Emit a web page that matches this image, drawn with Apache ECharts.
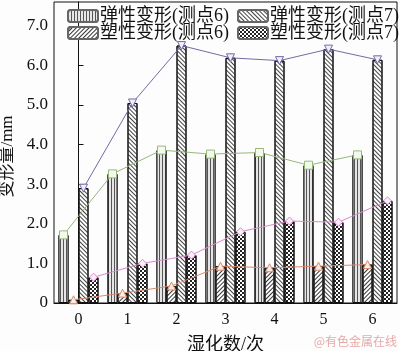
<!DOCTYPE html>
<html>
<head>
<meta charset="utf-8">
<script src="https://cdn.jsdelivr.net/npm/echarts@6/dist/echarts.min.js"></script>
<style>
  html, body { margin: 0; padding: 0; background: #fdfdfd; }
  #chart { width: 400px; height: 351px; }
</style>
</head>
<body>
<div id="chart"></div>
<script>
// 数据
const categories = ['0', '1', '2', '3', '4', '5', '6'];
const elastic6 = [1.72, 3.26, 3.86, 3.76, 3.80, 3.48, 3.74];
const plastic6 = [0.08, 0.25, 0.43, 0.93, 0.89, 0.93, 0.97];
const elastic7 = [2.90, 5.05, 6.50, 6.19, 6.12, 6.41, 6.14];
const plastic7 = [0.65, 1.00, 1.21, 1.80, 2.07, 2.04, 2.58];
const yTicks = [0, 1, 2, 3, 4, 5, 6, 7];

const names = ['弹性变形(测点6)', '塑性变形(测点6)', '弹性变形(测点7)', '塑性变形(测点7)'];

// 布局
const gridLeft = 54, gridRight = 3, gridTop = 2, gridBottom = 48;
const barW = 10;
const bandW = (400 - gridLeft - gridRight) / categories.length;
const offset = k => (k - 1.5) * barW / bandW;

const font = "'Liberation Serif', 'Noto Sans CJK SC', serif";

const decals = [
  { symbol: 'rect', symbolSize: 1, color: '#555', backgroundColor: '#e6e6e6', dashArrayX: [1, 2], dashArrayY: [1, 0], rotation: 0 },
  { symbol: 'rect', symbolSize: 1, color: '#333', dashArrayX: [1, 0], dashArrayY: [1, 2], rotation: -Math.PI / 4 },
  { symbol: 'rect', symbolSize: 1, color: '#444', dashArrayX: [1, 0], dashArrayY: [1, 2], rotation: Math.PI / 4 },
  { symbol: 'rect', symbolSize: 1, color: '#222', dashArrayX: [[2, 2], [0, 2, 2, 0]], dashArrayY: [2, 0], rotation: 0 }
];

const lineStyles = [
  { color: '#98b878', symbol: 'rect', rotate: 0, fill: '#f4f9ee' },
  { color: '#d98a6c', symbol: 'triangle', rotate: 0, fill: '#fbeee6' },
  { color: '#7668a8', symbol: 'triangle', rotate: 180, fill: '#f2effa' },
  { color: '#d88acb', symbol: 'diamond', rotate: 0, fill: '#fbeef8' }
];

const dataSets = [elastic6, plastic6, elastic7, plastic7];

const barSeries = dataSets.map((d, k) => ({
  name: names[k],
  type: 'bar',
  xAxisIndex: 0,
  barWidth: barW,
  barGap: '0%',
  data: d,
  itemStyle: { color: '#ffffff', borderColor: '#111', borderWidth: 1, decal: decals[k] },
  z: 2
}));

const lineSeries = dataSets.map((d, k) => ({
  name: names[k] + '-line',
  type: 'line',
  xAxisIndex: 1,
  data: d.map((v, i) => [i + offset(k), v]),
  symbol: lineStyles[k].symbol,
  symbolRotate: lineStyles[k].rotate,
  symbolSize: 8,
  lineStyle: { color: lineStyles[k].color, width: 1 },
  itemStyle: { color: lineStyles[k].fill, borderColor: lineStyles[k].color, borderWidth: 1 },
  z: 5
}));

const legendPos = [[62, 2], [62, 19], [232, 2], [232, 19]];
const legends = names.map((n, k) => ({
  data: [n],
  left: legendPos[k][0],
  top: legendPos[k][1],
  itemWidth: 30,
  itemHeight: 12,
  itemGap: 4,
  selectedMode: false,
  itemStyle: { borderColor: '#666' },
  textStyle: { fontFamily: font, fontSize: 18, color: '#111', padding: [0, 0, 0, -3] }
}));

const chart = echarts.init(document.getElementById('chart'));
chart.setOption({
  backgroundColor: '#fdfdfd',
  animation: false,
  legend: legends,
  grid: {
    left: gridLeft, right: gridRight, top: gridTop, bottom: gridBottom,
    outerBoundsMode: 'none', containLabel: false,
    show: true, borderColor: '#111', borderWidth: 1, backgroundColor: 'transparent'
  },
  xAxis: [
    {
      type: 'category',
      data: categories,
      name: '湿化数/次',
      nameLocation: 'middle',
      nameGap: 33,
      nameTextStyle: { fontFamily: font, fontSize: 18, color: '#111' },
      axisLine: { lineStyle: { color: '#111' } },
      axisTick: { show: false },
      axisLabel: { fontFamily: font, fontSize: 16, color: '#111', margin: 9 }
    },
    {
      type: 'value',
      min: -0.5,
      max: categories.length - 0.5,
      show: false
    }
  ],
  yAxis: {
    type: 'value',
    min: 0,
    max: 7.6,
    interval: 1,
    name: '变形量/mm',
    nameLocation: 'middle',
    nameGap: 34,
    nameTextStyle: { fontFamily: font, fontSize: 17, color: '#111', padding: [0, 8, 0, 0] },
    axisLine: { show: true, lineStyle: { color: '#111' } },
    axisTick: { show: true, inside: true, length: 5, lineStyle: { color: '#111' } },
    splitLine: { show: false },
    axisLabel: {
      fontFamily: font, fontSize: 17, color: '#111', margin: 6, showMaxLabel: false,
      formatter: v => (yTicks.includes(v) ? (v === 0 ? '0' : v.toFixed(1)) : '')
    }
  },
  graphic: [{
    type: 'text',
    right: 3,
    bottom: 4,
    style: { text: '@有色金属在线', font: "12px 'Noto Sans CJK SC'", fill: '#e9a7a7' }
  }],
  series: barSeries.concat(lineSeries)
});
</script>
</body>
</html>
